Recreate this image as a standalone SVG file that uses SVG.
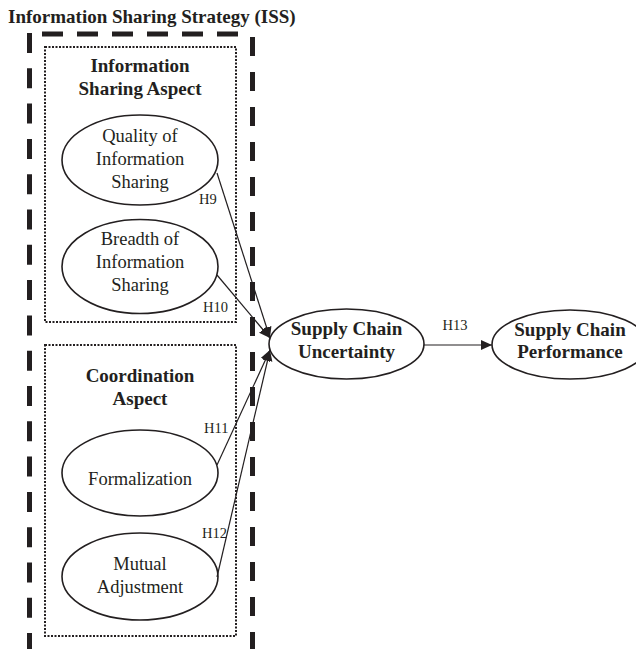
<svg xmlns="http://www.w3.org/2000/svg" width="636" height="649" viewBox="0 0 636 649">
<defs>
<style>
text{font-family:"Liberation Serif","Times New Roman",serif;fill:#231f20}
.b{font-weight:bold;font-size:19px;text-anchor:middle}
.r{font-size:18.5px;text-anchor:middle}
.h{font-size:14.5px}
.ell{fill:#fff;stroke:#231f20;stroke-width:1.6}
.dot{fill:none;stroke:#231f20;stroke-width:2;stroke-dasharray:2 1.5}
.dash{fill:none;stroke:#231f20;stroke-width:5}
.con{fill:none;stroke:#231f20;stroke-width:1.2;marker-end:url(#arr)}
</style>
<marker id="arr" markerUnits="userSpaceOnUse" markerWidth="12" markerHeight="11" refX="11" refY="5" orient="auto">
<path d="M0,0 L11,5 L0,10 z" fill="#231f20"/>
</marker>
</defs>
<rect width="636" height="649" fill="#fff"/>
<g id="iss">
<text x="8" y="23" font-weight="bold" font-size="19px">Information Sharing Strategy (ISS)</text>
<line class="dash" x1="42" y1="34" x2="240" y2="34" stroke-dasharray="21 14"/>
<line class="dash" x1="29.5" y1="33" x2="29.5" y2="649" stroke-dasharray="20 15.3"/>
<line class="dash" x1="252.5" y1="37" x2="252.5" y2="649" stroke-dasharray="19 16"/>
</g>
<g id="info-aspect">
<rect class="dot" x="45" y="47" width="191" height="275"/>
<text class="b" x="140" y="72">Information</text>
<text class="b" x="140" y="95">Sharing Aspect</text>
</g>
<g id="coord-aspect">
<rect class="dot" x="45" y="345" width="191" height="291"/>
<text class="b" x="140" y="382">Coordination</text>
<text class="b" x="140" y="405">Aspect</text>
</g>
<g id="quality">
<ellipse class="ell" cx="140" cy="160" rx="78" ry="45"/>
<text class="r" x="140" y="142">Quality of</text>
<text class="r" x="140" y="165">Information</text>
<text class="r" x="140" y="188">Sharing</text>
</g>
<g id="breadth">
<ellipse class="ell" cx="140" cy="266.5" rx="78" ry="47"/>
<text class="r" x="140" y="245">Breadth of</text>
<text class="r" x="140" y="268">Information</text>
<text class="r" x="140" y="291">Sharing</text>
</g>
<g id="formalization">
<ellipse class="ell" cx="140" cy="473" rx="78" ry="43"/>
<text class="r" x="140" y="485">Formalization</text>
</g>
<g id="mutual">
<ellipse class="ell" cx="140" cy="576.5" rx="78" ry="43.5"/>
<text class="r" x="140" y="570">Mutual</text>
<text class="r" x="140" y="593">Adjustment</text>
</g>
<g id="uncertainty">
<ellipse class="ell" cx="346.5" cy="344" rx="77.5" ry="35"/>
<text class="b" x="346.5" y="335">Supply Chain</text>
<text class="b" x="346.5" y="358">Uncertainty</text>
</g>
<g id="performance">
<ellipse class="ell" cx="570" cy="344.5" rx="78" ry="34.5"/>
<text class="b" x="570" y="336">Supply Chain</text>
<text class="b" x="570" y="358">Performance</text>
</g>
<g id="connectors">
<line class="con" x1="217" y1="173" x2="270" y2="338"/>
<line class="con" x1="217" y1="275" x2="270" y2="338"/>
<line class="con" x1="217" y1="465" x2="270" y2="350"/>
<line class="con" x1="217" y1="577" x2="270" y2="350"/>
<line class="con" x1="424" y1="345" x2="492" y2="345"/>
<text class="h" x="199" y="204">H9</text>
<text class="h" x="203" y="312">H10</text>
<text class="h" x="204" y="433">H11</text>
<text class="h" x="202" y="538">H12</text>
<text class="h" x="455" y="330" text-anchor="middle">H13</text>
</g>
</svg>
